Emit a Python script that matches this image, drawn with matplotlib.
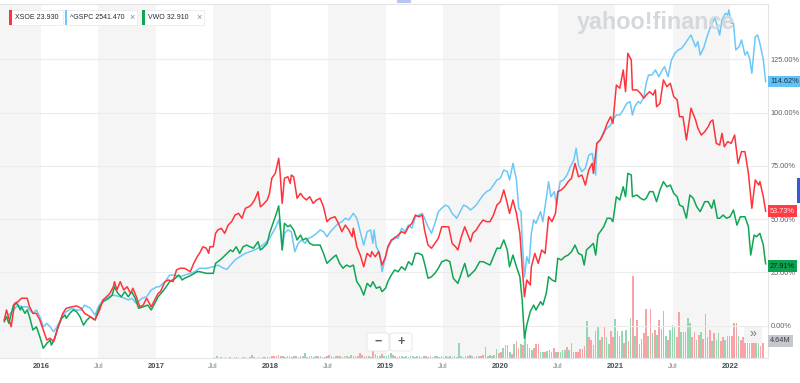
import matplotlib
matplotlib.use('Agg')
import matplotlib.pyplot as plt
from matplotlib.patches import FancyBboxPatch, Rectangle
import matplotlib.transforms as mtransforms
import pandas as pd

plt.rcParams['font.family'] = ['Liberation Sans', 'DejaVu Sans']

# % change since start, x given as decimal year
xsoe_t = [2015.68, 2015.70, 2015.74, 2015.77, 2015.80, 2015.83, 2015.88, 2015.90, 2015.93, 2015.96, 2015.99,
          2016.02, 2016.05, 2016.08, 2016.11, 2016.14, 2016.17, 2016.19, 2016.22, 2016.27, 2016.31, 2016.35,
          2016.38, 2016.43, 2016.47, 2016.51, 2016.54, 2016.57, 2016.60, 2016.63, 2016.64, 2016.66, 2016.69,
          2016.72, 2016.75, 2016.78, 2016.80, 2016.83, 2016.86, 2016.89, 2016.92, 2016.96, 2016.99, 2017.02,
          2017.04, 2017.08, 2017.11, 2017.15, 2017.18, 2017.21, 2017.25, 2017.30, 2017.33, 2017.36, 2017.38,
          2017.41, 2017.44, 2017.46, 2017.47, 2017.50, 2017.52, 2017.54, 2017.57, 2017.60, 2017.63, 2017.66,
          2017.69, 2017.72, 2017.75, 2017.78, 2017.81, 2017.83, 2017.86, 2017.89, 2017.91, 2017.93, 2017.97,
          2017.99, 2018.01, 2018.04, 2018.07, 2018.08, 2018.10, 2018.12, 2018.15, 2018.17, 2018.18, 2018.20,
          2018.23, 2018.26, 2018.28, 2018.31, 2018.34, 2018.37, 2018.40, 2018.43, 2018.46, 2018.49, 2018.52,
          2018.56, 2018.59, 2018.62, 2018.65, 2018.68, 2018.71, 2018.72, 2018.75, 2018.78, 2018.81, 2018.84,
          2018.87, 2018.88, 2018.91, 2018.94, 2018.97, 2019.00, 2019.02, 2019.05, 2019.08, 2019.11, 2019.14,
          2019.17, 2019.20, 2019.23, 2019.26, 2019.29, 2019.32, 2019.34, 2019.37, 2019.40, 2019.43, 2019.46,
          2019.49, 2019.52, 2019.55, 2019.58, 2019.61, 2019.63, 2019.66, 2019.69, 2019.74, 2019.76, 2019.79,
          2019.82, 2019.85, 2019.88, 2019.91, 2019.94, 2019.97, 2020.00, 2020.03, 2020.06, 2020.08, 2020.11,
          2020.14, 2020.17, 2020.19, 2020.21, 2020.23, 2020.26, 2020.27, 2020.30, 2020.33, 2020.36, 2020.39,
          2020.42, 2020.45, 2020.48, 2020.50, 2020.53, 2020.56, 2020.59, 2020.62, 2020.65, 2020.68, 2020.71,
          2020.74, 2020.77, 2020.80, 2020.81, 2020.84, 2020.87, 2020.90, 2020.93, 2020.96, 2020.98, 2021.01,
          2021.04, 2021.07, 2021.09, 2021.11, 2021.14, 2021.15, 2021.19, 2021.22, 2021.25, 2021.27, 2021.30,
          2021.33, 2021.35, 2021.36, 2021.39, 2021.42, 2021.45, 2021.48, 2021.51, 2021.54, 2021.56, 2021.59,
          2021.62, 2021.65, 2021.66, 2021.70, 2021.72, 2021.75, 2021.78, 2021.81, 2021.83, 2021.85, 2021.88,
          2021.91, 2021.93, 2021.95, 2021.98, 2022.01, 2022.04, 2022.07, 2022.10, 2022.13, 2022.16, 2022.19,
          2022.22, 2022.25, 2022.26, 2022.29, 2022.31]
xsoe_v = [2.6, 7.3, -0.6, 10.4, 11.2, 12.8, 12.8, 8.8, 5.7, 5.7, 2.6,
          -2.1, -6.8, -6.0, -7.6, -2.1, 2.6, 5.7, 8.1, 8.8, 9.2, 8.1,
          5.7, 4.1, 2.6, 7.3, 12.0, 13.5, 15.1, 18.2, 20.6, 16.7, 20.6,
          16.7, 18.2, 15.1, 17.5, 13.5, 8.8, 9.6, 12.8, 8.8, 12.0, 15.1,
          15.9, 20.6, 21.4, 20.6, 26.1, 26.9, 26.9, 25.3, 29.2, 32.3, 33.9,
          37.0, 36.3, 33.9, 37.0, 37.0, 43.3, 44.9, 45.7, 43.3, 47.2, 48.8,
          51.9, 52.7, 50.4, 55.1, 55.8, 56.6, 59.0, 62.9, 55.8, 56.6, 59.0,
          62.1, 69.2, 71.5, 78.6, 73.1, 57.4, 69.2, 69.9, 66.8, 70.7, 69.9,
          59.8, 62.1, 60.5, 59.0, 60.5, 57.4, 59.0, 59.8, 55.8, 48.8, 50.4,
          51.1, 48.0, 44.1, 47.2, 44.9, 41.7, 45.7, 37.0, 33.1, 27.6, 33.9,
          32.3, 34.7, 32.3, 34.7, 28.4, 32.3, 37.0, 40.2, 41.0, 42.5, 44.1,
          43.3, 46.4, 48.0, 51.9, 51.1, 51.9, 44.9, 37.8, 36.3, 38.6, 41.0,
          46.4, 46.4, 46.4, 38.6, 37.0, 35.5, 41.7, 46.4, 39.4, 43.3, 44.9,
          47.5, 49.6, 48.8, 48.8, 51.9, 56.6, 58.2, 63.7, 57.4, 52.7, 59.0,
          52.7, 43.3, 27.6, 13.5, 21.4, 19.0, 27.6, 33.9, 29.2, 35.5, 33.9,
          51.1, 48.8, 52.7, 62.9, 63.7, 65.2, 67.6, 69.2, 76.2, 69.9, 70.7,
          66.0, 73.1, 76.2, 71.5, 85.6, 87.2, 90.3, 95.0, 98.1, 95.0, 113.0,
          111.5, 120.1, 109.9, 127.9, 124.8, 110.7, 110.7, 109.1, 106.8, 108.3, 109.9,
          108.3, 110.7, 102.8, 104.4, 115.4, 112.2, 113.8, 107.5, 106.0, 98.1, 98.1,
          87.2, 98.1, 102.1, 96.6, 92.7, 89.5, 91.1, 93.4, 95.8, 96.6, 85.6,
          84.8, 90.3, 84.0, 86.4, 85.6, 89.5, 76.2, 81.7, 81.7, 71.5, 55.1,
          68.4, 66.0, 67.6, 60.5, 53.73]

gspc_t = [2015.68, 2015.72, 2015.76, 2015.80, 2015.83, 2015.88, 2015.90, 2015.93, 2015.96, 2015.99,
          2016.02, 2016.05, 2016.08, 2016.11, 2016.14, 2016.17, 2016.19, 2016.22, 2016.27, 2016.31,
          2016.35, 2016.38, 2016.43, 2016.47, 2016.50, 2016.54, 2016.59, 2016.63, 2016.69, 2016.73,
          2016.76, 2016.79, 2016.83, 2016.88, 2016.92, 2016.96, 2017.01, 2017.03, 2017.08, 2017.12,
          2017.17, 2017.21, 2017.25, 2017.30, 2017.34, 2017.38, 2017.44, 2017.50, 2017.54, 2017.59,
          2017.62, 2017.65, 2017.69, 2017.73, 2017.78, 2017.82, 2017.86, 2017.91, 2017.95, 2017.99,
          2018.04, 2018.07, 2018.09, 2018.10, 2018.12, 2018.15, 2018.18, 2018.21, 2018.24, 2018.27,
          2018.30, 2018.33, 2018.36, 2018.40, 2018.43, 2018.46, 2018.49, 2018.52, 2018.56, 2018.59,
          2018.62, 2018.65, 2018.68, 2018.72, 2018.75, 2018.78, 2018.81, 2018.84, 2018.87, 2018.89,
          2018.90, 2018.92, 2018.95, 2018.97, 2019.00, 2019.02, 2019.05, 2019.08, 2019.11, 2019.14,
          2019.17, 2019.20, 2019.23, 2019.26, 2019.29, 2019.32, 2019.34, 2019.37, 2019.40, 2019.43,
          2019.46, 2019.49, 2019.52, 2019.55, 2019.58, 2019.62, 2019.65, 2019.68, 2019.71, 2019.74,
          2019.76, 2019.79, 2019.82, 2019.85, 2019.88, 2019.91, 2019.94, 2019.97, 2020.00, 2020.03,
          2020.06, 2020.08, 2020.11, 2020.14, 2020.16, 2020.18, 2020.19, 2020.21, 2020.23, 2020.25,
          2020.27, 2020.29, 2020.31, 2020.35, 2020.37, 2020.40, 2020.42, 2020.44, 2020.47, 2020.49,
          2020.52, 2020.55, 2020.58, 2020.61, 2020.64, 2020.66, 2020.68, 2020.71, 2020.74, 2020.77,
          2020.80, 2020.83, 2020.84, 2020.87, 2020.90, 2020.93, 2020.96, 2020.98, 2021.01, 2021.04,
          2021.07, 2021.10, 2021.13, 2021.15, 2021.17, 2021.20, 2021.22, 2021.25, 2021.27, 2021.29,
          2021.32, 2021.35, 2021.38, 2021.41, 2021.43, 2021.46, 2021.49, 2021.52, 2021.55, 2021.58,
          2021.61, 2021.64, 2021.66, 2021.70, 2021.72, 2021.74, 2021.77, 2021.80, 2021.83, 2021.85,
          2021.87, 2021.89, 2021.91, 2021.93, 2021.96, 2021.98, 2021.99, 2022.01, 2022.03, 2022.05,
          2022.08, 2022.10, 2022.13, 2022.15, 2022.17, 2022.19, 2022.22, 2022.24, 2022.26, 2022.29,
          2022.31]
gspc_v = [2.6, 4.9, 7.3, 9.6, 8.8, 8.8, 7.3, 5.7, 7.3, 4.1,
          -0.6, 1.0, -0.6, -2.9, -0.6, 2.6, 4.9, 6.5, 8.1, 7.3,
          7.3, 9.6, 8.1, 4.9, 8.8, 12.0, 13.5, 14.3, 13.5, 12.8,
          12.0, 12.8, 10.4, 12.8, 13.5, 16.7, 18.2, 18.2, 20.6, 23.7,
          23.7, 22.9, 23.7, 24.5, 25.3, 26.9, 26.9, 27.6, 28.4, 26.9,
          26.4, 28.4, 30.8, 32.3, 33.9, 34.7, 35.5, 37.0, 38.6, 41.0,
          45.7, 49.6, 43.3, 35.5, 43.3, 44.9, 44.1, 34.7, 38.6, 40.2,
          38.6, 41.0, 41.7, 43.3, 44.9, 44.1, 41.7, 44.1, 46.4, 48.0,
          48.8, 50.4, 49.6, 52.7, 50.4, 44.1, 37.8, 44.1, 44.9, 38.6,
          44.9, 37.0, 33.9, 25.3, 32.3, 36.3, 39.4, 41.7, 41.0, 45.7,
          44.1, 47.2, 45.7, 51.1, 51.9, 52.7, 50.4, 46.4, 43.3, 48.0,
          53.5, 55.1, 56.6, 55.8, 52.7, 50.4, 53.5, 56.6, 55.8, 54.3,
          55.1, 56.6, 59.0, 61.3, 62.9, 63.7, 66.0, 68.4, 69.2, 73.1,
          72.3, 68.4, 76.2, 68.4, 55.1, 53.5, 40.2, 22.9, 32.3, 29.2,
          43.3, 49.6, 48.0, 53.5, 48.8, 59.8, 67.6, 60.5, 62.9, 56.6,
          67.6, 68.4, 70.7, 74.6, 77.8, 83.3, 75.4, 72.3, 73.9, 80.1,
          80.9, 70.7, 85.6, 87.2, 91.1, 92.7, 94.2, 96.6, 98.9, 98.9,
          101.3, 104.4, 105.2, 98.9, 102.8, 105.2, 104.4, 107.5, 113.8, 117.7,
          117.7, 120.1, 116.9, 120.1, 121.6, 116.9, 124.8, 127.9, 129.5, 130.3,
          132.6, 135.0, 136.5, 131.0, 133.4, 127.1, 130.3, 135.7, 140.4, 142.8,
          144.4, 140.4, 136.5, 143.6, 146.7, 145.9, 148.3, 142.0, 142.0, 129.5,
          131.0, 134.2, 127.1, 128.7, 125.6, 118.5, 135.7, 136.5, 132.6, 124.8,
          114.62]

vwo_t = [2015.68, 2015.70, 2015.72, 2015.76, 2015.79, 2015.82, 2015.83, 2015.86, 2015.88, 2015.90,
         2015.93, 2015.96, 2015.99, 2016.02, 2016.05, 2016.08, 2016.09, 2016.12, 2016.15, 2016.18,
         2016.21, 2016.22, 2016.25, 2016.28, 2016.31, 2016.34, 2016.37, 2016.40, 2016.43, 2016.47,
         2016.51, 2016.54, 2016.59, 2016.62, 2016.64, 2016.67, 2016.70, 2016.73, 2016.76, 2016.79,
         2016.82, 2016.85, 2016.89, 2016.93, 2016.96, 2016.99, 2017.02, 2017.07, 2017.09, 2017.12,
         2017.17, 2017.20, 2017.23, 2017.25, 2017.28, 2017.31, 2017.36, 2017.38, 2017.44, 2017.50,
         2017.52, 2017.56, 2017.59, 2017.62, 2017.65, 2017.67, 2017.70, 2017.73, 2017.76, 2017.79,
         2017.82, 2017.85, 2017.88, 2017.89, 2017.91, 2017.93, 2017.97, 2017.99, 2018.02, 2018.05,
         2018.07, 2018.08, 2018.10, 2018.12, 2018.15, 2018.17, 2018.20, 2018.23, 2018.26, 2018.28,
         2018.31, 2018.34, 2018.37, 2018.43, 2018.46, 2018.49, 2018.52, 2018.55, 2018.57, 2018.60,
         2018.63, 2018.66, 2018.69, 2018.72, 2018.75, 2018.78, 2018.81, 2018.84, 2018.87, 2018.89,
         2018.92, 2018.95, 2018.97, 2019.00, 2019.02, 2019.05, 2019.08, 2019.11, 2019.14, 2019.17,
         2019.20, 2019.23, 2019.26, 2019.29, 2019.32, 2019.34, 2019.37, 2019.40, 2019.43, 2019.46,
         2019.49, 2019.53, 2019.56, 2019.59, 2019.63, 2019.66, 2019.69, 2019.72, 2019.75, 2019.78,
         2019.82, 2019.85, 2019.88, 2019.91, 2019.94, 2019.97, 2020.00, 2020.03, 2020.06, 2020.08,
         2020.11, 2020.14, 2020.17, 2020.19, 2020.21, 2020.23, 2020.26, 2020.29, 2020.31, 2020.35,
         2020.37, 2020.40, 2020.42, 2020.45, 2020.48, 2020.50, 2020.53, 2020.56, 2020.59, 2020.62,
         2020.65, 2020.68, 2020.71, 2020.73, 2020.75, 2020.78, 2020.81, 2020.83, 2020.85, 2020.87,
         2020.90, 2020.93, 2020.96, 2020.98, 2021.01, 2021.04, 2021.07, 2021.09, 2021.11, 2021.14,
         2021.15, 2021.19, 2021.22, 2021.25, 2021.27, 2021.30, 2021.33, 2021.36, 2021.39, 2021.42,
         2021.45, 2021.48, 2021.51, 2021.54, 2021.56, 2021.59, 2021.62, 2021.65, 2021.68, 2021.71,
         2021.74, 2021.78, 2021.81, 2021.84, 2021.86, 2021.89, 2021.91, 2021.94, 2021.97, 2022.00,
         2022.03, 2022.06, 2022.09, 2022.13, 2022.16, 2022.18, 2022.21, 2022.23, 2022.26, 2022.29,
         2022.30, 2022.31]
vwo_v = [1.8, 4.1, 1.0, 9.6, 10.4, 7.3, 8.8, 5.7, 7.3, 4.1,
         -2.1, -0.6, -5.3, -10.7, -8.4, -6.8, -9.2, -6.0, -0.6, 3.4,
         4.9, 3.4, 5.7, 7.3, 6.5, 4.1, 0.2, 2.6, 4.1, 2.6,
         8.8, 11.2, 12.8, 14.3, 18.2, 15.1, 13.5, 15.9, 13.5, 15.9,
         12.8, 8.1, 8.8, 9.6, 7.3, 10.4, 13.5, 16.7, 18.2, 20.6,
         22.2, 23.7, 21.4, 22.2, 22.9, 23.7, 25.3, 25.3, 24.5, 24.5,
         29.2, 30.8, 32.3, 33.9, 35.5, 34.7, 37.0, 33.9, 37.0, 37.8,
         37.0, 36.3, 38.6, 39.4, 35.5, 36.3, 38.6, 43.3, 48.0, 52.7,
         56.2, 49.6, 35.5, 48.0, 46.4, 47.2, 44.9, 40.2, 42.5, 40.2,
         41.0, 38.6, 37.8, 37.8, 33.9, 29.2, 30.8, 32.3, 33.1, 29.2,
         26.9, 28.4, 27.6, 28.4, 20.6, 18.2, 14.3, 19.8, 18.2, 20.6,
         17.5, 18.2, 15.9, 17.5, 20.6, 23.7, 26.1, 25.3, 27.6, 26.1,
         30.0, 28.4, 33.9, 33.9, 33.1, 29.2, 22.2, 22.9, 24.5, 26.9,
         30.0, 30.8, 30.0, 22.2, 19.8, 24.5, 29.2, 22.9, 24.5, 26.1,
         30.0, 30.0, 29.2, 28.4, 32.3, 36.3, 36.3, 40.2, 35.5, 27.6,
         33.1, 27.6, 22.9, 12.0, -6.0, 0.2, 6.5, 9.6, 7.3, 11.2,
         9.6, 15.1, 22.9, 21.4, 20.6, 31.6, 30.8, 32.3, 33.1, 34.7,
         37.8, 33.9, 33.1, 28.4, 35.5, 37.0, 38.6, 33.1, 42.5, 44.1,
         46.4, 50.4, 50.4, 48.8, 60.5, 59.0, 65.2, 60.5, 71.5, 70.7,
         60.5, 61.3, 59.8, 59.0, 59.8, 62.9, 62.9, 58.2, 63.7, 67.6,
         65.2, 66.0, 62.1, 60.5, 56.6, 55.8, 50.4, 61.3, 59.8, 55.8,
         53.5, 58.2, 58.2, 55.1, 59.0, 50.4, 50.4, 51.9, 50.4, 51.1,
         54.3, 47.2, 51.1, 51.1, 46.4, 33.1, 42.5, 41.7, 43.3, 37.8,
         33.1, 29.0]

# XSOE weekly volume (millions) from Jul 2017, by half-year, with up/down colour
vol_17b = [0.2, 0.6, 0.1, 0.3, 0.1, 0.3, 0.1, 0.3, 0.1, 0.3, 0.3, 0.1, 0.1, 0.3, 0.3, 0.1, 0.2, 0.9, 0.3, 0.1, 0.3, 0.1, 0.3, 0.3, 0.3, 0.4]
vol_18a = [0.5, 0.6, 0.5, 0.9, 0.6, 0.5, 0.4, 0.6, 0.5, 0.4, 0.5, 0.6, 0.4, 0.5, 0.5, 1.5, 0.4, 0.5, 0.6, 0.4, 0.5, 0.6, 0.5, 0.4, 0.4, 0.5]
vol_18b = [0.9, 0.5, 0.4, 0.5, 0.6, 0.5, 0.4, 0.6, 0.5, 0.4, 0.9, 0.5, 0.6, 0.5, 1.5, 0.9, 0.6, 0.5, 0.5, 0.4, 2.5, 1.2, 0.6, 0.5, 1.2, 0.6]
vol_19a = [0.6, 0.9, 1.5, 0.9, 0.5, 0.4, 0.6, 0.5, 0.4, 0.5, 0.4, 0.6, 0.5, 0.4, 0.6, 0.5, 0.4, 0.5, 0.6, 0.4, 0.5, 0.4, 0.6, 0.5, 0.4, 0.5]
vol_19b = [0.4, 0.5, 0.4, 0.6, 0.4, 0.5, 0.4, 4.6, 0.5, 0.4, 0.6, 0.5, 0.9, 0.5, 0.4, 0.6, 0.5, 0.6, 0.9, 3.4, 0.6, 0.9, 0.6, 0.9, 2.8, 1.5]
vol_20a = [1.8, 3.0, 4.1, 4.1, 1.8, 1.1, 4.4, 5.2, 3.0, 4.4, 4.1, 7.8, 4.4, 3.0, 2.6, 3.0, 4.4, 4.4, 1.8, 1.8, 1.8, 2.2, 2.4, 1.9, 3.0, 1.8]
vol_20b = [2.0, 2.0, 2.5, 2.5, 3.3, 2.4, 4.8, 2.0, 2.0, 2.0, 2.9, 2.9, 3.7, 11.5, 6.5, 5.6, 4.0, 8.5, 9.6, 5.6, 6.5, 10.0, 6.5, 4.4, 8.5, 6.5]
vol_21a = [12.0, 8.5, 6.9, 8.5, 4.8, 8.8, 5.2, 12.4, 25.4, 6.9, 11.7, 4.4, 6.0, 7.8, 15.2, 6.9, 15.2, 7.7, 8.8, 7.3, 11.7, 9.1, 14.6, 6.9, 5.6, 8.8]
vol_21b = [10.4, 10.0, 6.5, 14.3, 8.1, 8.1, 8.1, 12.4, 10.9, 6.5, 8.1, 5.6, 7.3, 8.1, 6.0, 13.6, 6.5, 8.8, 5.2, 7.7, 5.6, 7.7, 5.2, 6.5, 5.6, 6.9]
vol_22a = [6.9, 6.9, 10.9, 10.9, 6.9, 5.6, 6.5, 7.7, 5.6, 6.9, 6.9, 6.5, 6.9, 6.9, 3.6, 4.64]
dir_17b = "gggggrggggrggggrgggggrgggg"
dir_18a = "rrrrrgrrgrrgrrggrgrrgrggrr"
dir_18b = "rrgrgrrgrggrgrrrgrgrrrrgrg"
dir_19a = "ggggrgggrggggrgrrrggrgggrg"
dir_19b = "rgrgrggggrgrgggrgrrrggrggr"
dir_20a = "rgrrgrgrrgrggrgrrrggrgrgrg"
dir_20b = "rgggrggrrrrrrgrrgggrgrggrr"
dir_21a = "ggggrgrgrgrrgrrgrgrgrrrgrg"
dir_21b = "ggrrggrggrrgrgrgrrgrggrrgr"
dir_22a = "rrrrgrrrgrrrggrr"

volume = vol_17b + vol_18a + vol_18b + vol_19a + vol_19b + vol_20a + vol_20b + vol_21a + vol_21b + vol_22a
vol_dir = dir_17b + dir_18a + dir_18b + dir_19a + dir_19b + dir_20a + dir_20b + dir_21a + dir_21b + dir_22a
vol_dates = pd.date_range('2017-07-07', periods=len(volume), freq='7D')
vol_t = [d.year + (d.dayofyear - 1) / 365.25 for d in vol_dates]

years = [2016, 2017, 2018, 2019, 2020, 2021, 2022]
pct_ticks = [0, 25, 50, 75, 100, 125]

RED = '#ff333a'
BLUE = '#6cc8f8'
GREEN = '#10a554'

W, H = 800, 383
fig = plt.figure(figsize=(W / 100, H / 100), dpi=100)


def fx(x):
    return x / W


def fy(y):
    return 1 - y / H


rect = [0, fy(358), fx(767.7), fy(4) - fy(358)]
xlim = (2015.643, 2022.328)

# volume + background bands underneath
axv = fig.add_axes(rect)
axv.set_xlim(*xlim)
axv.set_ylim(0, 110)
axv.axvspan(xlim[0], 2016, color='#f5f5f5', lw=0)
for y in years[:-1]:
    axv.axvspan(y + 0.5, y + 1, color='#f5f5f5', lw=0)
bar_cols = ['#f9a3a6' if c == 'r' else '#93d8b0' for c in vol_dir]
axv.bar(vol_t, volume, width=0.014, color=bar_cols, lw=0)
axv.axis('off')

# yahoo watermark
fig.text(fx(577), fy(28.5), 'yahoo!finance', fontsize=16.8, fontweight='bold',
         color='#d5d8dc', ha='left', va='baseline')

ax = fig.add_axes(rect)
ax.patch.set_visible(False)
ax.set_xlim(*xlim)
ax.set_ylim(-15.27, 151.08)
ax.plot(gspc_t, gspc_v, color=BLUE, lw=1.1, zorder=3)
ax.plot(vwo_t, vwo_v, color=GREEN, lw=1.1, zorder=4)
ax.plot(xsoe_t, xsoe_v, color=RED, lw=1.1, zorder=5)

for p in pct_ticks:
    ax.axhline(p, color='#ececec', lw=0.8, zorder=1)

ax.yaxis.tick_right()
ax.set_yticks(pct_ticks)
ax.set_yticklabels(['%.2f%%' % p for p in pct_ticks])
ax.tick_params(axis='y', length=0, pad=2.3, labelsize=5.3, labelcolor='#5b636a')

xt, xl = [], []
for y in years:
    xt.append(y)
    xl.append(str(y))
    if y < 2022:
        xt.append(y + 0.5)
        xl.append('Jul')
ax.set_xticks(xt)
ax.set_xticklabels(xl)
ax.tick_params(axis='x', length=0, pad=3.5, labelsize=5.5)
for lab in ax.get_xticklabels():
    if lab.get_text() == 'Jul':
        lab.set_color('#7f868d')
    else:
        lab.set_color('#464e56')
        lab.set_fontweight('bold')

ax.spines['left'].set_visible(False)
for s in ['top', 'right', 'bottom']:
    ax.spines[s].set_color('#e3e4e6')
    ax.spines[s].set_linewidth(0.8)

# last-value tags on the right
tr = mtransforms.blended_transform_factory(ax.transAxes, ax.transData)
tags = [(gspc_v[-1], '114.62%', '#62c2f4', '#17324a'),
        (xsoe_v[-1], '53.73%', '#ff3b46', '#ffe9ea'),
        (27.91, '27.91%', '#0fa152', '#0b2416')]
for val, txt, bg, fg in tags:
    ax.text(1.003, val, txt, transform=tr, ha='left', va='center', fontsize=5.3,
            color=fg, clip_on=False, zorder=10,
            bbox=dict(boxstyle='square,pad=0.3', fc=bg, ec='none'))

fig.text(fx(770), fy(341), '4.64M', fontsize=5.3, color='#3c4148', ha='left', va='center',
         bbox=dict(boxstyle='square,pad=0.3', fc='#c4c7cb', ec='none'))

# >> button
fig.patches.append(FancyBboxPatch((fx(744), fy(343)), fx(18), fy(327) - fy(343),
                                  boxstyle='square,pad=0', fc='#f3f3f3', ec='none',
                                  transform=fig.transFigure))
fig.text(fx(753), fy(334), '\u00bb', fontsize=9, color='#6e7780', ha='center', va='center')

# zoom buttons
for x0, sym in [(367, '\u2212'), (390, '+')]:
    fig.patches.append(FancyBboxPatch((fx(x0), fy(351)), fx(22), fy(333) - fy(351),
                                      boxstyle='round,pad=0,rounding_size=0.004',
                                      fc='white', ec='#e3e4e6', lw=0.6,
                                      transform=fig.transFigure))
    fig.text(fx(x0 + 11), fy(341.5), sym, fontsize=9, fontweight='bold', color='#5b636a',
             ha='center', va='center')

# legend chips
chips = [(9, 63, RED, 'XSOE 23.930', False),
         (64.5, 137, BLUE, '^GSPC 2541.470', True),
         (142, 204, GREEN, 'VWO 32.910', True)]
for x0, x1, col, txt, close in chips:
    fig.patches.append(FancyBboxPatch((fx(x0), fy(25)), fx(x1 - x0), fy(10) - fy(25),
                                      boxstyle='square,pad=0', fc='white', ec='#e8e8e8',
                                      lw=0.5, transform=fig.transFigure))
    fig.patches.append(Rectangle((fx(x0), fy(25)), fx(2.5), fy(10) - fy(25), fc=col,
                                 ec='none', transform=fig.transFigure))
    fig.text(fx(x0 + 6), fy(17.5), txt, fontsize=5.0, color='#232a31', ha='left', va='center')
    if close:
        fig.text(fx(x1 - 5), fy(17.5), '\u00d7', fontsize=6.5, color='#828a93',
                 ha='center', va='center')

# small UI bits at the edges
fig.patches.append(Rectangle((fx(397), fy(3)), fx(14), fy(0) - fy(3), fc='#b9c5f0', ec='none',
                             transform=fig.transFigure))
fig.patches.append(Rectangle((fx(797), fy(203)), fx(3), fy(178) - fy(203), fc='#2f5bdc', ec='none',
                             transform=fig.transFigure))

fig.savefig('out.png', dpi=100)
